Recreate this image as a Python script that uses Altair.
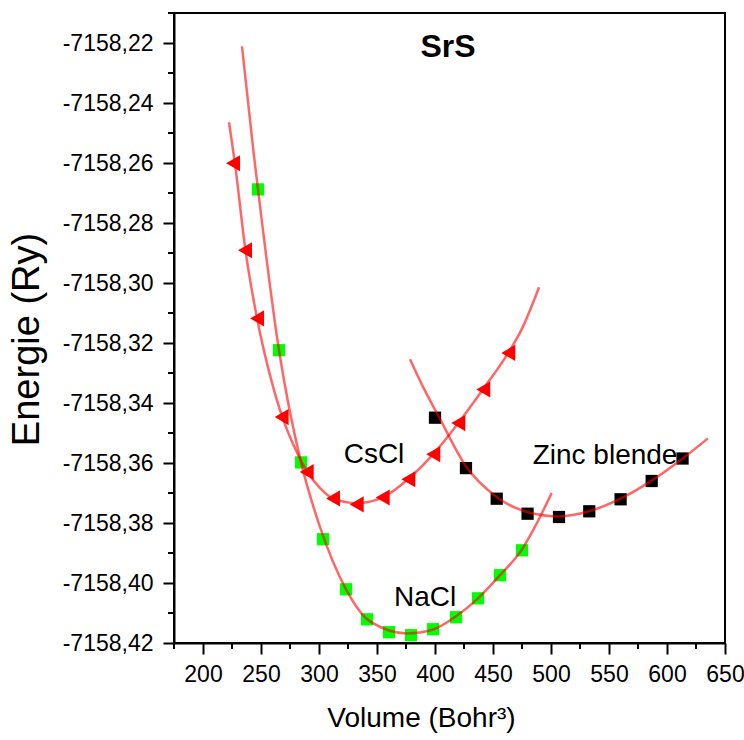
import altair as alt
import pandas as pd

# ---------------- data ----------------
# NaCl phase (green squares)
nacl_v = [247.4, 265.5, 284.5, 303.4, 323.3, 341.4, 360.3, 379.3, 398.3, 418.1, 437.1, 456.0, 475.0]
nacl_e = [-7158.2688, -7158.3224, -7158.3598, -7158.3854, -7158.4021, -7158.4121, -7158.4164,
          -7158.4174, -7158.4154, -7158.4114, -7158.4051, -7158.3974, -7158.3891]
# CsCl phase (red triangles)
cscl_v = [225.9, 236.2, 246.6, 267.8, 289.4, 312.1, 332.5, 354.9, 377.0, 398.5, 420.1, 441.6, 463.2]
cscl_e = [-7158.2601, -7158.2891, -7158.3118, -7158.3447, -7158.3630, -7158.3718, -7158.3738,
          -7158.3715, -7158.3654, -7158.3571, -7158.3467, -7158.3355, -7158.3233]
# Zinc blende phase (black squares)
zb_v = [400.0, 426.7, 453.2, 479.8, 506.9, 533.0, 560.0, 586.8, 613.4]
zb_e = [-7158.3449, -7158.3617, -7158.3719, -7158.3769, -7158.3780, -7158.3761, -7158.3721,
        -7158.3660, -7158.3585]

# fitted curves
nacl_fit_v = [233.6, 243.4, 247.4, 265.5, 284.5, 300.9, 323.3, 344.0, 375.9, 398.3, 418.1,
              437.1, 456.0, 475.0, 484.6, 500.6]
nacl_fit_e = [-7158.2211, -7158.2558, -7158.2688, -7158.3224, -7158.3598, -7158.3814, -7158.4021,
              -7158.4128, -7158.4168, -7158.4155, -7158.4111, -7158.4051, -7158.3974, -7158.3888,
              -7158.3824, -7158.3700]
cscl_fit_v = [222.4, 227.6, 236.6, 246.6, 257.8, 268.1, 279.3, 289.7, 300.9, 312.1, 332.8, 355.2,
              376.7, 398.3, 419.8, 441.4, 463.0, 475.0, 489.7]
cscl_fit_e = [-7158.2464, -7158.2604, -7158.2891, -7158.3118, -7158.3308, -7158.3444, -7158.3551,
              -7158.3628, -7158.3684, -7158.3718, -7158.3734, -7158.3714, -7158.3654, -7158.3571,
              -7158.3468, -7158.3354, -7158.3234, -7158.3152, -7158.3014]
zb_fit_v = [378.4, 389.8, 403.7, 426.7, 453.4, 480.2, 506.9, 532.8, 560.3, 587.1, 613.8, 635.3]
zb_fit_e = [-7158.3254, -7158.3347, -7158.3449, -7158.3611, -7158.3714, -7158.3764, -7158.3778,
            -7158.3761, -7158.3718, -7158.3658, -7158.3584, -7158.3518]

# axis ticks
x_major = [200, 250, 300, 350, 400, 450, 500, 550, 600, 650]
x_minor = [175, 225, 275, 325, 375, 425, 475, 525, 575, 625]
y_major = [-7158.42, -7158.40, -7158.38, -7158.36, -7158.34, -7158.32, -7158.30, -7158.28,
           -7158.26, -7158.24, -7158.22]
y_minor = [-7158.41, -7158.39, -7158.37, -7158.35, -7158.33, -7158.31, -7158.29, -7158.27,
           -7158.25, -7158.23, -7158.21]

# phase labels (anchored in data units)
label_text = ["CsCl", "Zinc blende", "NaCl"]
label_v = [347.4, 546.6, 391.4]
label_e = [-7158.3574, -7158.3578, -7158.4051]

# ---------------- chart ----------------
FONT = "Liberation Sans"
W, H = 551, 630
xscale = alt.Scale(domain=[175, 650], nice=False, zero=False)
yscale = alt.Scale(domain=[-7158.42, -7158.21], nice=False, zero=False)

xaxis = alt.Axis(values=x_major, format="d", tickSize=11, tickWidth=2, tickColor="black",
                 domainColor="black", domainWidth=2, grid=False,
                 labelFont=FONT, labelFontSize=23, labelColor="black", labelPadding=9,
                 labelFlush=False, labelOverlap=False,
                 title="Volume (Bohr³)", titleFont=FONT, titleFontSize=28,
                 titleFontWeight="normal", titleColor="black",
                 titleX=247, titleY=75, titleAlign="center", titleBaseline="middle")
yaxis = alt.Axis(values=y_major, tickSize=11, tickWidth=2, tickColor="black",
                 domainColor="black", domainWidth=2, grid=False,
                 labelExpr="'-' + replace(format(-datum.value, '.2f'), '.', ',')",
                 labelFont=FONT, labelFontSize=23, labelColor="black", labelPadding=10,
                 labelFlush=False, labelOverlap=False,
                 title="Energie (Ry)", titleFont=FONT, titleFontSize=38,
                 titleFontWeight="normal", titleColor="black", titleAngle=270,
                 titleX=-147, titleY=326, titleAlign="center", titleBaseline="middle")

def df(v, e):
    return pd.DataFrame({"v": v, "e": e})

X = alt.X("v:Q", scale=xscale, axis=xaxis)
Y = alt.Y("e:Q", scale=yscale, axis=yaxis)

zb_pts = alt.Chart(df(zb_v, zb_e)).mark_point(shape="square", filled=True, size=150,
                                              color="black", opacity=1).encode(x=X, y=Y)
nacl_pts = alt.Chart(df(nacl_v, nacl_e)).mark_point(shape="square", filled=True, size=150,
                                                    color="#00FF00", opacity=1).encode(x=X, y=Y)
cscl_pts = alt.Chart(df(cscl_v, cscl_e)).mark_point(shape="triangle-left", filled=True, size=260,
                                                    color="#FF0000", opacity=1).encode(x=X, y=Y)

def curve(v, e):
    return alt.Chart(df(v, e)).mark_line(color="#FF0000", opacity=0.6, strokeWidth=2.5,
                                         interpolate="monotone").encode(x=X, y=Y)

ymin = alt.Chart(pd.DataFrame({"e": y_minor})).mark_rule(color="black", strokeWidth=2, clip=False).encode(
    y=Y, x=alt.value(-6), x2=alt.value(0))
xmin = alt.Chart(pd.DataFrame({"v": x_minor})).mark_rule(color="black", strokeWidth=2, clip=False).encode(
    x=X, y=alt.value(H), y2=alt.value(H + 6))

labels = alt.Chart(pd.DataFrame({"v": label_v, "e": label_e, "t": label_text})).mark_text(
    font=FONT, fontSize=28, color="black", align="center", baseline="middle").encode(
    x=X, y=Y, text="t:N")

title = alt.Chart(pd.DataFrame({"t": ["SrS"]})).mark_text(
    font=FONT, fontSize=32, fontWeight="bold", color="black", align="center",
    baseline="middle").encode(x=alt.value(274), y=alt.value(34), text="t:N")

chart = alt.layer(
    zb_pts, nacl_pts, cscl_pts,
    curve(nacl_fit_v, nacl_fit_e), curve(cscl_fit_v, cscl_fit_e), curve(zb_fit_v, zb_fit_e),
    ymin, xmin, labels, title
).properties(
    width=W, height=H, autosize="none",
    padding={"left": 174, "top": 13, "right": 19, "bottom": 97},
    background="white",
).configure_view(stroke="black", strokeWidth=2)

chart.save("out.html", embed_options={"renderer": "svg", "actions": False})
